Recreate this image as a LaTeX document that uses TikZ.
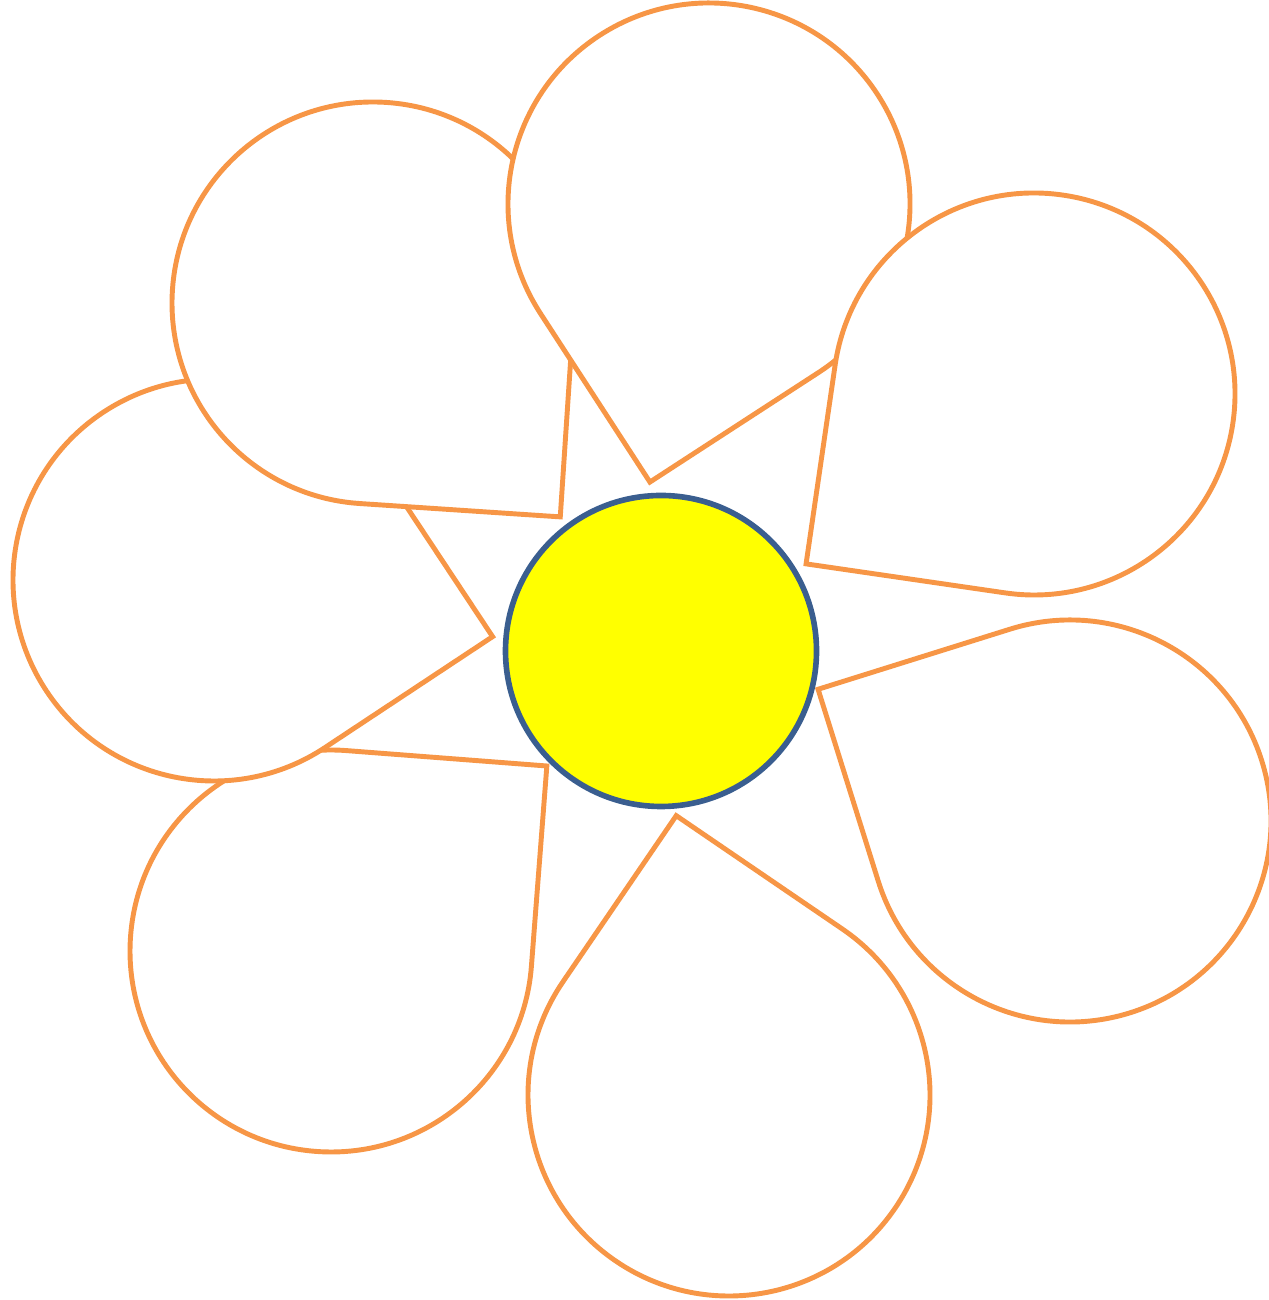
\documentclass[tikz,border=0pt]{standalone}
\usetikzlibrary{calc}

\definecolor{petalorange}{HTML}{F79646}
\definecolor{discblue}{HTML}{3A5E8F}
\definecolor{discyellow}{RGB}{255,255,0}

\begin{document}
\begin{tikzpicture}[
    petal/.style={draw=petalorange, fill=white, line width=1.4pt},
    disc/.style={draw=discblue, fill=discyellow, line width=1.6pt}
  ]
    \useasboundingbox (0,0) rectangle (12.68,13);

    % petals, back to front: centre x, centre y, direction of the tip
    \foreach \cx/\cy/\a in {10.70/4.79/152.4, 7.29/2.05/100.7, 3.31/3.49/40.6,
                            2.14/7.20/-11.5, 3.73/9.97/-48.8, 7.09/10.96/258,
                            10.34/9.06/216.7}
      \draw[petal] (\cx,\cy) ++(\a+45:2.01)
        arc[start angle=\a+45, end angle=\a+315, radius=2.01]
        -- ($(\cx,\cy)+(\a:2.843)$) -- cycle;

    \draw[disc] (6.61,6.49) circle (1.555);
\end{tikzpicture}
\end{document}
